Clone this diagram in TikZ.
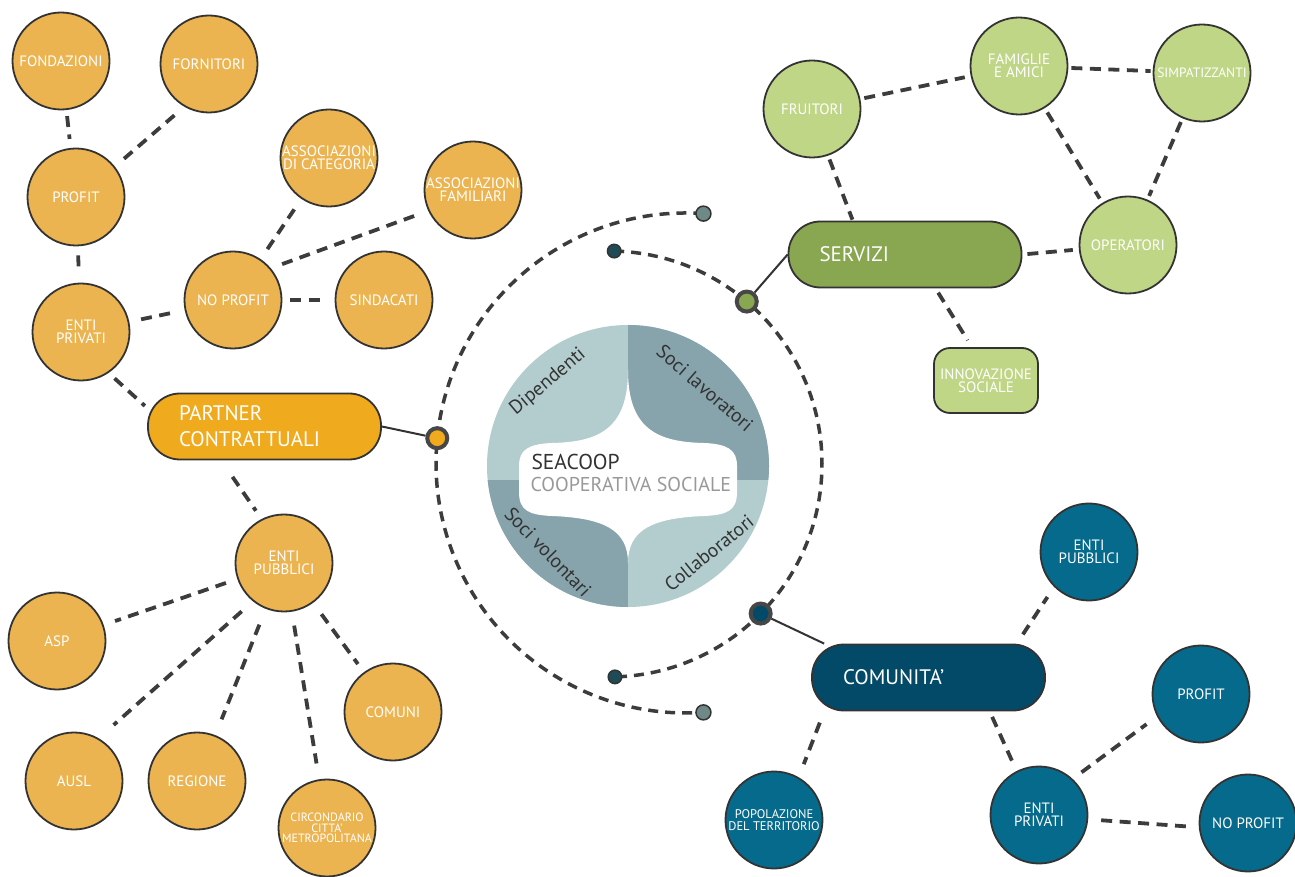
\documentclass[tikz,border=0pt]{standalone}
\usepackage{fontspec}
\setmainfont{PT Sans}
\usetikzlibrary{calc}
\definecolor{orL}{RGB}{236,180,80}
\definecolor{orD}{RGB}{240,170,30}
\definecolor{grL}{RGB}{192,214,135}
\definecolor{grD}{RGB}{137,166,80}
\definecolor{blL}{RGB}{5,106,140}
\definecolor{blD}{RGB}{3,74,104}
\definecolor{segL}{RGB}{179,205,207}
\definecolor{segD}{RGB}{135,163,171}
\definecolor{lineC}{RGB}{51,51,51}
\definecolor{dashC}{RGB}{60,60,60}
\definecolor{tipG}{RGB}{111,137,135}
\definecolor{tipD}{RGB}{31,75,87}
\newcommand{\fsz}[2]{\fontsize{#1}{#2}\selectfont}

\begin{document}
\begin{tikzpicture}[x=1pt,y=1pt,
		bubble/.style={circle,draw=lineC,line width=1.8pt,minimum size=97pt,inner sep=0pt,align=center,text=white,font=\fsz{15}{13}},
		pill/.style={rectangle,rounded corners=32pt,draw=lineC,line width=1.8pt,minimum width=233pt,minimum height=66pt,inner xsep=0pt,text width=171pt,align=left,text=white,font=\fsz{21}{26}},
		link/.style={draw=dashC,line width=3.8pt,dash pattern=on 11pt off 7.5pt,shorten <=12pt,shorten >=12pt},
		orbit/.style={draw=dashC,line width=3.5pt,dash pattern=on 10pt off 7pt},
		wire/.style={draw=lineC,line width=2pt},
		hub/.style={circle,draw=lineC!90,line width=4pt,minimum size=20pt,inner sep=0pt},
		enddot/.style={circle,draw=lineC,line width=1.5pt,minimum size=15pt,inner sep=0pt},
		segtext/.style={text=lineC,font=\fsz{19.5}{19.5}}]
		\useasboundingbox (0,0) rectangle (1295,876);
		% centro
		\coordinate (C) at (628,410);
		\coordinate (O1) at (686,413);
		\coordinate (O2) at (609,412);
		\fill[segL] (C) circle (141);
		\begin{scope}
		\clip (C) circle (141);
		\fill[segD] (628,396) rectangle (775,560);
		\fill[segD] (628,396) rectangle (480,260);
		\end{scope}
		\fill[white] (628,506) .. controls (628,448) and (600,434) .. (552,433) .. controls (528,432) and (519,426) .. (519,410) -- (519,384) .. controls (519,366) and (528,361) .. (552,360) .. controls (604,358) and (628,346) .. (628,313) .. controls (628,346) and (652,358) .. (704,360) .. controls (728,361) and (737,366) .. (737,384) -- (737,410) .. controls (737,426) and (728,432) .. (704,433) .. controls (656,434) and (628,448) .. (628,506) -- cycle;
		\node[anchor=base west,text=lineC,font=\fsz{21.5}{21.5}] (sea) at (528,406) {SEACOOP};
		\node[anchor=base west,text=black!40,font=\fsz{20}{20}] (coop) at (527,384) {COOPERATIVA SOCIALE};
		\node[segtext,rotate=40] (dip) at (548,494) {Dipendenti};
		\node[segtext,rotate=-41] (slav) at (705,488) {Soci lavoratori};
		\node[segtext,rotate=-46] (svol) at (548,324) {Soci volontari};
		\node[segtext,rotate=39] (coll) at (709,323) {Collaboratori};
		% orbite
		\draw[orbit] ($(O1)+(86:250)$) arc[start angle=86,end angle=274,radius=250];
		\draw[orbit] ($(O2)+(88.6:213)$) arc[start angle=88.6,end angle=-88.4,radius=213];
		\node[enddot,fill=tipG] (g1) at ($(O1)+(86:250)$) {};
		\node[enddot,fill=tipG] (g2) at ($(O1)+(274:250)$) {};
		\node[enddot,fill=tipD,minimum size=13.5pt] (d1) at ($(O2)+(88.6:213)$) {};
		\node[enddot,fill=tipD,minimum size=13.5pt] (d2) at ($(O2)+(-88.4:213)$) {};
		\node[hub,fill=orD] (odot) at ($(O1)+(174.3:250)$) {};
		\node[hub,fill=grD] (gdot) at ($(O2)+(49.7:213)$) {};
		\node[hub,fill=blD] (ndot) at ($(O2)+(-44.6:213)$) {};
		% partner contrattuali
		\node[pill,fill=orD] (partner) at (264.5,449.5) {PARTNER\\CONTRATTUALI};
		\node[bubble,fill=orL] (fond) at (61,815) {FONDAZIONI};
		\node[bubble,fill=orL] (forn) at (209,812) {FORNITORI};
		\node[bubble,fill=orL] (profit) at (76,679) {PROFIT};
		\node[bubble,fill=orL] (epriv) at (81,544) {ENTI\\PRIVATI};
		\node[bubble,fill=orL] (noprof) at (233,576) {NO PROFIT};
		\node[bubble,fill=orL] (sind) at (384,576) {SINDACATI};
		\node[bubble,fill=orL] (acat) at (329,718) {ASSOCIAZIONI\\DI CATEGORIA};
		\node[bubble,fill=orL] (afam) at (473,686) {ASSOCIAZIONI\\FAMILIARI};
		\node[bubble,fill=orL] (pubbl) at (284,313) {ENTI\\PUBBLICI};
		\node[bubble,fill=orL] (asp) at (57,235) {ASP};
		\node[bubble,fill=orL] (ausl) at (74,95) {AUSL};
		\node[bubble,fill=orL] (regione) at (197,95) {REGIONE};
		\node[bubble,fill=orL,font=\fsz{12}{10.5}] (circ) at (327,48) {CIRCONDARIO\\CITTA’\\METROPOLITANA};
		\node[bubble,fill=orL] (comuni) at (393,164) {COMUNI};
		% servizi
		\node[pill,fill=grD] (serv) at (905,621.5) {SERVIZI};
		\node[bubble,fill=grL] (fruit) at (812,767) {FRUITORI};
		\node[bubble,fill=grL] (famig) at (1019,810) {FAMIGLIE\\E AMICI};
		\node[bubble,fill=grL,font=\fsz{13.5}{13}] (simp) at (1202,803) {SIMPATIZZANTI};
		\node[bubble,fill=grL] (oper) at (1128,631) {OPERATORI};
		\node[rectangle,rounded corners=16pt,draw=lineC,line width=1.8pt,fill=grL,minimum width=104pt,minimum height=65pt,inner sep=0pt,align=center,text=white,font=\fsz{15}{13}] (innov) at (986,495.5) {INNOVAZIONE\\SOCIALE};
		% comunita
		\node[pill,fill=blD] (comun) at (928.5,198.5) {COMUNITA’};
		\node[bubble,fill=blL] (bpubbl) at (1089,324) {ENTI\\PUBBLICI};
		\node[bubble,fill=blL] (bprofit) at (1201,182) {PROFIT};
		\node[bubble,fill=blL] (bnoprof) at (1248,53) {NO PROFIT};
		\node[bubble,fill=blL] (bpriv) at (1039,61) {ENTI\\PRIVATI};
		\node[bubble,fill=blL,font=\fsz{12.5}{12}] (popol) at (774,56) {POPOLAZIONE\\DEL TERRITORIO};
		% collegamenti
		\draw[wire] (partner.east) -- (odot);
		\draw[wire] (gdot) -- (serv.west);
		\draw[wire] (ndot) -- (comun.162);
		\draw[link,shorten <=6pt,shorten >=9pt] (fond) -- (profit);
		\draw[link] (profit.38) -- (forn.240);
		\draw[link,shorten <=9pt,shorten >=9pt] (profit) -- (epriv);
		\draw[link] (epriv) -- (noprof);
		\draw[link] (noprof) -- (acat);
		\draw[link] (noprof.40) -- (afam.205);
		\draw[link,shorten <=8pt,shorten >=15pt] (noprof) -- (sind);
		\draw[link,shorten <=8pt,shorten >=3pt] (epriv.304) -- (partner.171);
		\draw[link,shorten <=20pt,shorten >=10pt] (partner.218) -- (pubbl.117);
		\draw[link] (pubbl) -- (asp);
		\draw[link,shorten <=15pt,shorten >=20pt] (pubbl.231) -- (ausl.60);
		\draw[link,shorten <=17pt,shorten >=17pt] (pubbl) -- (regione);
		\draw[link,shorten <=14pt,shorten >=16pt] (pubbl) -- (circ);
		\draw[link,shorten <=14pt,shorten >=10pt] (pubbl) -- (comuni);
		\draw[link,shorten <=4pt,shorten >=1pt] (fruit.289) -- (serv.147);
		\draw[link,shorten <=4pt,shorten >=6pt] (fruit) -- (famig);
		\draw[link,shorten <=3pt,shorten >=2pt] (famig) -- (simp);
		\draw[link,shorten <=5pt,shorten >=5pt] (famig) -- (oper);
		\draw[link,shorten <=4pt,shorten >=4pt] (simp) -- (oper);
		\draw[link,shorten <=5pt,shorten >=6pt] (serv.east) -- (oper);
		\draw[link,shorten <=5pt,shorten >=8pt] (serv.312) -- (innov.113);
		\draw[link,shorten <=11pt,shorten >=12pt] (comun.21) -- (bpubbl.225);
		\draw[link,shorten <=6pt,shorten >=6pt] (comun.331) -- (bpriv.117);
		\draw[link,shorten <=11pt,shorten >=13pt] (bpriv.47) -- (bprofit.207);
		\draw[link,shorten <=13pt,shorten >=13pt] (bpriv.355) -- (bnoprof.185);
		\draw[link,shorten <=12pt,shorten >=14pt] (comun.198) -- (popol.60);
	\end{tikzpicture}
\end{document}
